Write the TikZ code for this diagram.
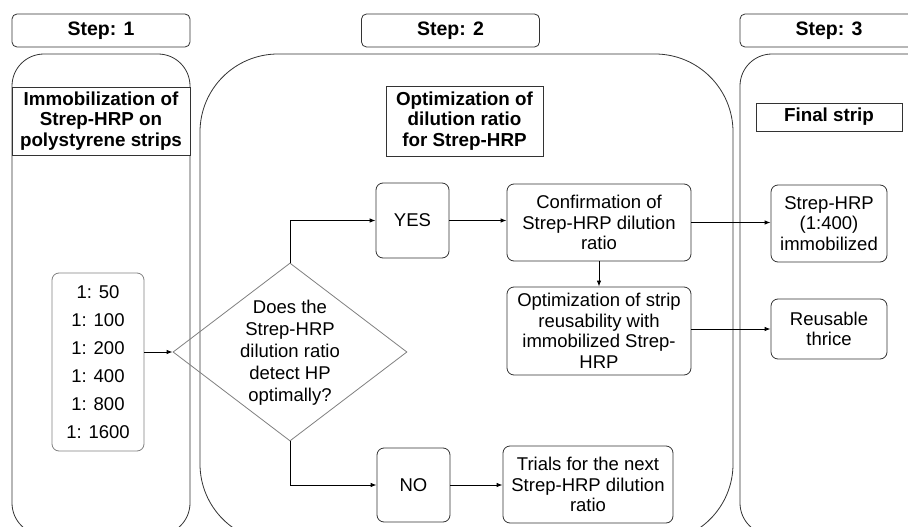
\documentclass[tikz,border=0pt]{standalone}
\usepackage{fontspec}
\setmainfont{Liberation Sans}
\usetikzlibrary{shapes.geometric,arrows.meta}
\begin{document}
\begin{tikzpicture}[x=1pt,y=-1pt,
  big/.style={draw=black!80, line width=0.8pt},
  hdr/.style={draw=black!80, line width=0.8pt, rounded corners=5pt, minimum width=178pt, minimum height=33pt, inner sep=0pt, font=\fontsize{19.5}{22}\selectfont\bfseries},
  ttl/.style={draw=black!80, line width=0.8pt, inner sep=0pt, align=center, font=\fontsize{18.8}{20.5}\selectfont\bfseries},
  rbox/.style={draw=black!80, line width=0.8pt, rounded corners=7pt, inner sep=0pt, align=center, font=\fontsize{18.5}{20.5}\selectfont},
  arr/.style={line width=0.9pt, -{Latex[length=6pt,width=4.5pt]}},
]
\useasboundingbox[fill=white] (0,0) rectangle (908,527);
\clip (0,0) rectangle (908,527);

% big panels
\draw[big, rounded corners=32pt] (12,54) rectangle (190,535);
\draw[big, rounded corners=78pt] (200,54) rectangle (733,542);
\draw[big, rounded corners=32pt] (740,54) rectangle (940,535);

% headers
\node[hdr] (h1) at (101,30.5) {Step: 1};
\node[hdr] (h2) at (450.5,30.5) {Step: 2};
\node[hdr] (h3) at (829,30.5) {Step: 3};

% titles
\node[ttl, fill=white, minimum width=178pt, minimum height=68pt] (t1) at (101,121) {Immobilization of\\Strep-HRP on\\polystyrene strips};
\node[ttl, minimum width=157pt, minimum height=70pt] (t2) at (464.5,121) {Optimization of\\dilution ratio\\for Strep-HRP};
\node[ttl, minimum width=146pt, minimum height=28pt] (t3) at (829,117) {Final strip};

% ratios
\node[rbox, draw=black!50, font=\fontsize{18.5}{28}\selectfont, minimum width=92pt, minimum height=178pt] (ratios) at (98,362) {1: 50\\1: 100\\1: 200\\1: 400\\1: 800\\1: 1600};

% decision
\node[diamond, draw=black!50, line width=0.8pt, minimum width=234pt, minimum height=178pt, inner sep=0pt] (dia) at (290,352) {};
\node[align=center, inner sep=0pt, font=\fontsize{18.5}{22}\selectfont] (diatext) at (290,353) {Does the\\Strep-HRP\\dilution ratio\\detect HP\\optimally?};

% boxes
\node[rbox, minimum width=73pt, minimum height=75pt] (yes) at (412.5,220.5) {YES};
\node[rbox, minimum width=73pt, minimum height=74pt] (no) at (413.5,485) {NO};
\node[rbox, minimum width=184pt, minimum height=77pt] (conf) at (599,222.5) {Confirmation of\\Strep-HRP dilution\\ratio};
\node[rbox, minimum width=184pt, minimum height=88pt] (opt) at (599,331) {Optimization of strip\\reusability with\\immobilized Strep-\\HRP};
\node[rbox, minimum width=170pt, minimum height=77pt] (trials) at (588,484.5) {Trials for the next\\Strep-HRP dilution\\ratio};
\node[rbox, minimum width=116pt, minimum height=77pt] (strep) at (829,223.5) {Strep-HRP\\(1:400)\\immobilized};
\node[rbox, minimum width=116pt, minimum height=60pt] (reuse) at (829,329) {Reusable\\thrice};

% connectors
\draw[arr] (dia.west -| ratios.east) -- (dia.west);
\draw[arr] (dia.north) |- (yes.west);
\draw[arr] (dia.south) |- (no.west);
\draw[arr] (yes.east) -- (yes.east -| conf.west);
\draw[arr] (no.east) -- (no.east -| trials.west);
\draw[arr] (conf.south) -- (opt.north);
\draw[arr] (conf.east) -- (conf.east -| strep.west);
\draw[arr] (reuse.west -| opt.east) -- (reuse.west);
\end{tikzpicture}
\end{document}
